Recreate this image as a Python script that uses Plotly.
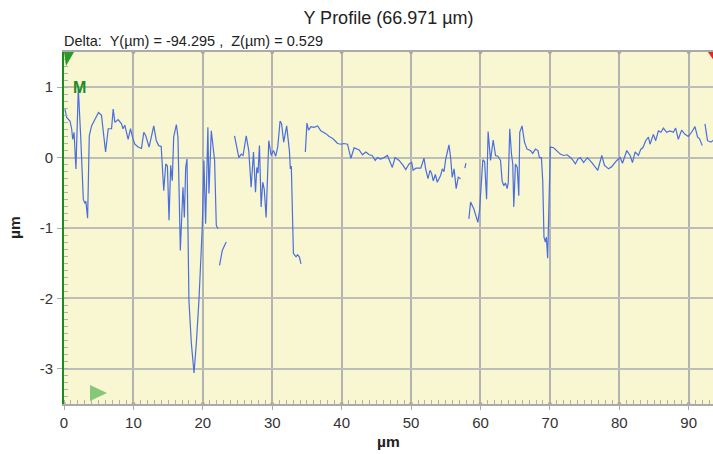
import plotly.graph_objects as go

title_text = "Y Profile (66.971 µm)"
delta_text = "Delta:  Y(µm) = -94.295 ,  Z(µm) = 0.529"
x_axis_title = "µm"
y_axis_title = "µm"
x_tick_vals = [0, 10, 20, 30, 40, 50, 60, 70, 80, 90]
x_tick_text = ["0", "10", "20", "30", "40", "50", "60", "70", "80", "90"]
y_tick_vals = [1, 0, -1, -2, -3]
y_tick_text = ["1", "0", "-1", "-2", "-3"]
x_range = [0, 93.5]
y_range = [-3.5, 1.5]

seg1_x = [0.14, 0.38, 0.86, 1.10, 1.25, 1.45, 1.72, 2.06, 2.40, 2.78, 3.00, 3.15, 3.40, 3.64, 3.97,
          4.45, 4.97, 5.40, 5.65, 5.99, 6.37, 6.85, 7.09, 7.33, 7.80, 8.29, 8.50, 8.76, 9.24, 9.58,
          9.87, 10.20, 10.68, 11.16, 11.50, 11.78, 12.26, 12.93, 13.30, 13.65, 14.00, 14.37, 14.66,
          14.90, 15.13, 15.37, 15.60, 15.80, 16.19, 16.42, 16.76, 17.14, 17.34, 17.53, 17.72, 18.00,
          18.35, 18.73, 19.07, 19.44, 19.92, 20.16, 20.40, 20.73, 20.88, 21.22, 21.70, 21.94, 22.17]
seg1_y = [0.69, 0.57, 0.52, 0.41, 0.26, 0.36, -0.16, 0.98, 0.31, -0.59, -0.65, -0.62, -0.86, 0.31, 0.45,
          0.55, 0.64, 0.60, 0.36, 0.08, 0.41, 0.41, 0.69, 0.50, 0.54, 0.48, 0.41, 0.46, 0.26, 0.41,
          0.29, 0.19, 0.15, 0.13, 0.36, 0.31, 0.15, 0.45, 0.24, 0.17, 0.16, -0.47, -0.09,
          -0.12, -0.89, -0.11, -0.33, 0.29, 0.47, 0.29, -1.32, -0.42, -0.85, -0.14, -0.02, -2.03,
          -2.64, -3.06, -2.63, -2.03, -0.99, -0.04, -0.94, 0.43, -0.51, 0.38, -0.04, -0.96, -1.01]

seg2_x = [22.41, 22.80, 23.37]
seg2_y = [-1.53, -1.32, -1.20]

seg3_x = [24.57, 25.19, 25.53, 25.80, 26.25, 26.62, 26.96, 27.30, 27.59, 27.78, 27.95, 28.16, 28.40,
          28.63, 28.85, 29.12, 29.50, 29.84, 30.17, 30.50, 30.79, 31.13, 31.35, 31.65, 32.08, 32.47,
          32.61, 32.75, 33.05, 33.43, 33.65, 33.90, 34.15]
seg3_y = [0.31, 0.00, 0.05, 0.03, 0.31, 0.10, -0.42, 0.08, -0.49, -0.14, -0.22, 0.17, -0.70,
          -0.35, -0.45, -0.85, 0.24, 0.03, 0.10, 0.02, 0.15, 0.52, 0.48, 0.22, 0.45, 0.10,
          -0.16, -0.12, -1.36, -1.41, -1.38, -1.41, -1.51]

seg4_x = [34.77, 35.00, 35.24, 35.58, 36.00, 36.54, 37.00, 37.40, 37.73, 38.20, 38.60, 38.94, 39.41,
          39.90, 40.30, 40.85, 41.33, 41.80, 42.20, 42.53, 43.00, 43.49, 43.97, 44.40, 44.83, 45.16,
          45.60, 46.12, 46.60, 46.90, 47.30, 47.70, 48.28, 48.85, 49.24, 49.71, 50.10, 50.29, 50.70,
          51.40, 51.87, 52.10, 52.44, 52.73, 52.95, 53.20, 53.50, 53.78, 54.27, 54.50, 54.75, 54.98,
          55.46, 55.70, 55.93, 56.20, 56.50, 56.80, 57.14]
seg4_y = [0.08, 0.49, 0.39, 0.44, 0.43, 0.45, 0.38, 0.36, 0.34, 0.30, 0.28, 0.25, 0.20,
          0.19, 0.20, 0.19, -0.01, 0.14, 0.12, 0.11, 0.04, 0.08, 0.04, 0.03, -0.04, 0.00,
          -0.02, 0.00, 0.03, -0.04, -0.14, 0.00, -0.04, -0.11, -0.17, -0.09, -0.07, -0.18, -0.15,
          -0.15, -0.01, -0.16, -0.30, -0.18, -0.22, -0.33, -0.24, -0.35, -0.25, -0.16, -0.20, -0.03,
          0.18, 0.00, -0.28, -0.16, -0.44, -0.28, -0.30]

seg5_x = [57.76, 57.90]
seg5_y = [-0.15, -0.08]

seg6_x = [58.33, 58.58, 59.05, 59.38, 59.62, 59.87, 60.15, 60.34, 60.60, 60.88, 61.10, 61.45, 61.83,
          62.17, 62.50, 62.89, 63.12, 63.36, 63.60, 63.84, 64.00, 64.22, 64.47, 64.65, 64.80, 65.04,
          65.30, 65.52, 65.66, 65.99, 66.34, 66.71, 67.20, 67.53, 67.92, 68.29, 68.49, 68.78, 68.97,
          69.15, 69.35, 69.50, 69.68, 69.83, 70.07, 70.54, 71.02, 71.50, 71.98, 72.50, 73.18, 73.67,
          74.04, 74.38, 74.86, 75.40, 76.05, 76.90, 77.48, 77.87, 78.45, 78.90, 79.64, 80.13, 80.46,
          80.84, 81.08, 81.56, 81.90, 82.28, 82.76, 83.10, 83.40, 83.80, 84.20, 84.43, 84.91, 85.24,
          85.63, 86.00, 86.35, 86.82, 87.30, 87.79, 88.12, 88.50, 88.70, 88.98, 89.47, 89.94, 90.42,
          90.90, 91.28, 91.55, 91.95]
seg6_y = [-0.87, -0.63, -0.73, -0.85, -0.92, -0.75, -0.28, -0.03, -0.06, -0.59, 0.37, -0.04, 0.25,
          0.03, 0.02, -0.04, -0.33, -0.40, -0.36, -0.44, -0.36, 0.41, 0.05, -0.09, -0.70, -0.09,
          -0.14, -0.54, 0.36, 0.45, 0.22, 0.12, 0.10, 0.06, 0.12, 0.10, 0.00, 0.00, -0.33,
          -1.13, -1.20, -1.13, -1.43, -0.75, 0.15, 0.14, 0.10, 0.05, 0.03, 0.04, -0.02, -0.09,
          -0.02, 0.00, -0.07, 0.00, -0.07, -0.18, 0.03, -0.11, -0.16, -0.13, -0.04, 0.00, -0.08,
          0.05, 0.10, 0.03, -0.07, 0.08, 0.03, 0.12, 0.14, 0.24, 0.29, 0.19, 0.33, 0.24,
          0.38, 0.36, 0.42, 0.36, 0.38, 0.36, 0.42, 0.26, 0.32, 0.39, 0.33, 0.30, 0.36,
          0.44, 0.29, 0.27, 0.17]

seg7_x = [92.34, 92.71, 93.20, 93.60]
seg7_y = [0.48, 0.24, 0.22, 0.25]

segments_x = [seg1_x, seg2_x, seg3_x, seg4_x, seg5_x, seg6_x, seg7_x]
segments_y = [seg1_y, seg2_y, seg3_y, seg4_y, seg5_y, seg6_y, seg7_y]

profile_x, profile_y = [], []
for sx, sy in zip(segments_x, segments_y):
    profile_x += sx + [None]
    profile_y += sy + [None]

FONT = "Liberation Sans, Arial, Helvetica, sans-serif"
GREEN = "#1f8a1f"

fig = go.Figure()
fig.add_trace(go.Scatter(x=profile_x, y=profile_y, mode="lines", connectgaps=False,
                         line=dict(color="#4a6ee0", width=1.2), hoverinfo="skip", showlegend=False))

# dots at major grid positions on top and bottom border
fig.add_trace(go.Scatter(x=x_tick_vals[1:] + x_tick_vals,
                         y=[y_range[1]] * (len(x_tick_vals) - 1) + [y_range[0]] * len(x_tick_vals),
                         mode="markers", marker=dict(size=4, color="#a3a6a6"),
                         cliponaxis=False, hoverinfo="skip", showlegend=False))

fig.update_layout(
    width=713, height=454,
    margin=dict(l=64, r=0, t=52, b=50),
    paper_bgcolor="white",
    plot_bgcolor="#f8f7d2",
    font=dict(family=FONT, size=15, color="#333333"),
    title=dict(text=title_text, x=0.5, xref="paper", y=1 - 18 / 454, yref="container",
               xanchor="center", yanchor="middle", font=dict(size=18, color="#222222")),
    showlegend=False,
)

fig.update_xaxes(
    range=x_range, tickvals=x_tick_vals, ticktext=x_tick_text, showgrid=True,
    gridcolor="#b2b4b3", gridwidth=2,
    showline=True, linecolor="#a9abab", linewidth=2, mirror=True, zeroline=False,
    ticks="outside", ticklen=4, tickcolor="#a9abab", tickwidth=1,
    minor=dict(dtick=1, ticks="inside", ticklen=4, tickcolor="#b0b2b2", showgrid=False),
    tickfont=dict(size=15, color="#333333"),
)
fig.update_yaxes(
    range=y_range, tickvals=y_tick_vals, ticktext=y_tick_text, showgrid=True,
    gridcolor="#bdbeb8", gridwidth=1.5,
    showline=True, linecolor=GREEN, linewidth=2, mirror=False, zeroline=False,
    ticks="outside", ticklen=5, tickcolor="#a9abab", tickwidth=1,
    minor=dict(dtick=0.1, ticks="inside", ticklen=4, tickcolor="#b0b2b2", showgrid=False),
    tickfont=dict(size=15, color="#333333"), ticklabelstandoff=1,
)

fig.add_annotation(text=delta_text, xref="paper", yref="paper", x=0, y=1, xanchor="left",
                   yanchor="bottom", yshift=1, xshift=-2, showarrow=False,
                   font=dict(size=14.5, color="#222222"))
fig.add_annotation(text="<b>" + x_axis_title + "</b>", xref="paper", yref="paper", x=0.5, y=0,
                   yshift=-37, xanchor="center", yanchor="middle", showarrow=False,
                   font=dict(size=15.5, color="#222222"))
fig.add_annotation(text="<b>" + y_axis_title + "</b>", xref="paper", yref="paper", x=0, y=0.5,
                   xshift=-50, xanchor="center", yanchor="middle", textangle=-90, showarrow=False,
                   font=dict(size=15.5, color="#222222"))
fig.add_annotation(text="<b>M</b>", xref="x", yref="y", x=x_range[0], y=1.0, xanchor="left",
                   yanchor="middle", xshift=7, showarrow=False,
                   font=dict(size=16, color=GREEN))

# markers: green start marker, green cursor, red end marker
fig.add_shape(type="path", xref="x", yref="y", xsizemode="pixel", ysizemode="pixel",
              xanchor=x_range[0], yanchor=y_range[1], path="M 0 0 L 10 0 L 2 -14 Z",
              fillcolor="#2a9a2a", line=dict(width=0))
fig.add_shape(type="path", xref="x", yref="y", xsizemode="pixel", ysizemode="pixel",
              xanchor=x_range[0], yanchor=y_range[0], path="M 26 3 L 26 19 L 43 11 Z",
              fillcolor="#86c878", line=dict(width=0))
fig.add_shape(type="path", xref="x", yref="y", xsizemode="pixel", ysizemode="pixel",
              xanchor=x_range[1], yanchor=y_range[1], path="M -5 0 L 9 0 L 2 -10 Z",
              fillcolor="#ee2222", line=dict(width=0))

fig.write_html("out.html")
